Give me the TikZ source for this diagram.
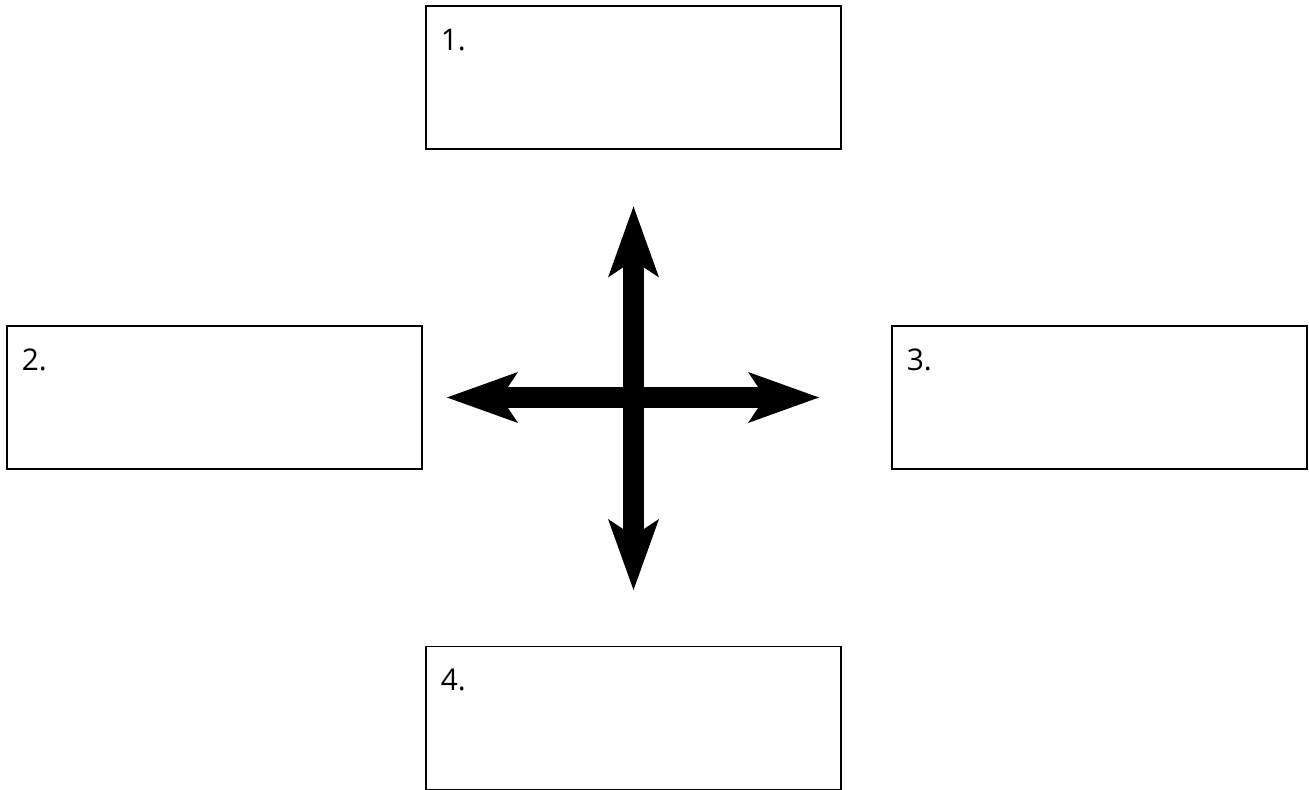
\documentclass[tikz,border=0pt]{standalone}
\usepackage{fontspec}
\setmainfont{Open Sans}
\usetikzlibrary{arrows.meta}

\begin{document}
\begin{tikzpicture}[
    box/.style={draw,line width=0.6pt,minimum width=8.3cm,minimum height=2.86cm,inner sep=0pt},
    num/.style={anchor=north west,inner sep=0pt,font=\fontsize{17}{20}\selectfont},
    bigarrow/.style={line width=0.42cm,
      {Stealth[length=14.2mm,width=10.2mm,inset=3.4mm,line width=0pt]}-{Stealth[length=14.2mm,width=10.2mm,inset=3.4mm,line width=0pt]}}
  ]

      \useasboundingbox (0,0) rectangle (26.18,15.8);

      % the four boxes and their numbers
      \foreach \n/\x/\y in {1/12.67/14.25, 2/4.29/7.85, 3/21.99/7.85, 4/12.67/1.44}{
        \node[box] (box\n) at (\x,\y) {};
        \node[num] (num\n) at ([shift={(0.3,-0.46)}]box\n.north west) {\n.};
      }

      % the cross of arrows
      \coordinate (mid) at (12.67,7.85);
      \coordinate (top) at (12.67,11.67);
      \coordinate (bottom) at (12.67,4.0);
      \coordinate (left) at (8.94,7.85);
      \coordinate (right) at (16.38,7.85);

      \draw[bigarrow] (top) -- (bottom);
      \draw[bigarrow] (left) -- (right);

    \end{tikzpicture}
\end{document}
